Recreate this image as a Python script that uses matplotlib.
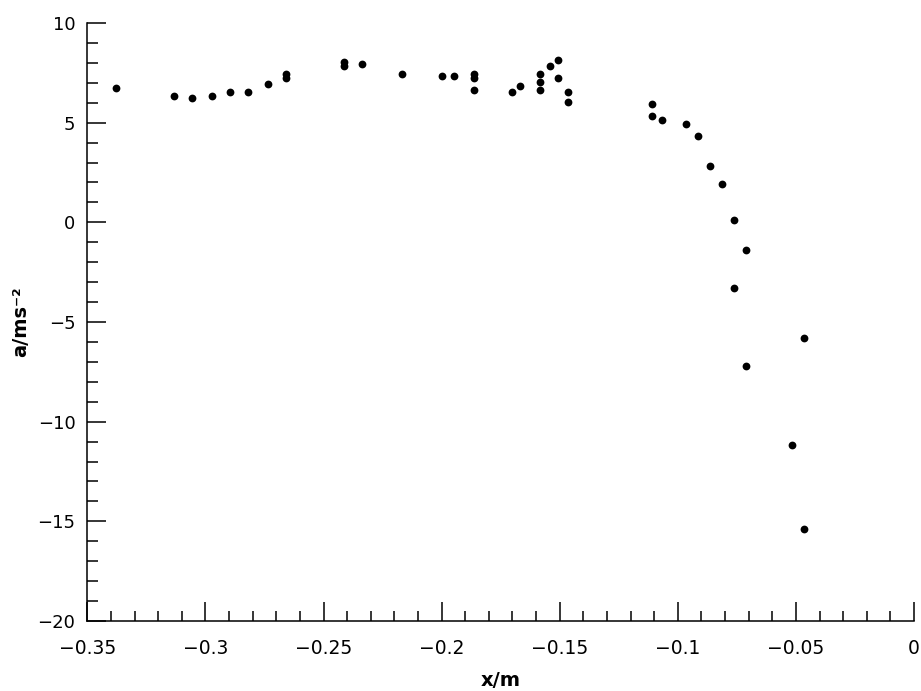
import matplotlib
matplotlib.use("Agg")
import matplotlib.pyplot as plt
from matplotlib.ticker import MultipleLocator, FuncFormatter

# values
X_M = [
    -0.3378, -0.3133, -0.3057, -0.2972, -0.2896, -0.2820, -0.2735, -0.2659, -0.2659,
    -0.2415, -0.2415, -0.2338, -0.2168, -0.1999, -0.1948,
    -0.1863, -0.1863, -0.1863, -0.1703, -0.1669,
    -0.1584, -0.1584, -0.1584, -0.1542, -0.1508, -0.1508, -0.1466, -0.1466,
    -0.1110, -0.1110, -0.1068, -0.0966, -0.0915, -0.0864, -0.0813, -0.0762,
    -0.0711, -0.0762, -0.0466, -0.0711, -0.0517, -0.0466,
]
A_MS2 = [
    6.72, 6.33, 6.22, 6.33, 6.52, 6.52, 6.92, 7.42, 7.22,
    8.02, 7.82, 7.92, 7.42, 7.32, 7.32,
    7.42, 7.22, 6.62, 6.52, 6.82,
    7.42, 7.02, 6.62, 7.82, 8.12, 7.22, 6.52, 6.02,
    5.92, 5.32, 5.12, 4.92, 4.32, 2.82, 1.92, 0.12,
    -1.39, -3.29, -5.79, -7.19, -11.19, -15.39,
]


def fmt(v, pos):
    s = ("%.2f" % v).rstrip("0").rstrip(".")
    if s in ("-0", ""):
        s = "0"
    return s.replace("-", "\u2212")


def main():
    plt.rcParams["font.family"] = ["DejaVu Sans"]
    fig = plt.figure(figsize=(9.21, 6.91), dpi=100)
    ax = fig.add_axes([87.3 / 921, 70 / 691, 826.7 / 921, 598 / 691])

    ax.plot(X_M, A_MS2, "o", color="black", ms=5.6, mew=0, clip_on=False)

    ax.set_xlim(-0.35, 0)
    ax.set_ylim(-20, 10)
    ax.xaxis.set_major_locator(MultipleLocator(0.05))
    ax.xaxis.set_minor_locator(MultipleLocator(0.01))
    ax.yaxis.set_major_locator(MultipleLocator(5))
    ax.yaxis.set_minor_locator(MultipleLocator(1))
    ax.xaxis.set_major_formatter(FuncFormatter(fmt))
    ax.yaxis.set_major_formatter(FuncFormatter(fmt))

    for side in ("top", "right"):
        ax.spines[side].set_visible(False)
    for side in ("left", "bottom"):
        ax.spines[side].set_linewidth(1.1)

    ax.tick_params(which="both", direction="in", width=1.1)
    ax.tick_params(axis="x", labelsize=13.5)
    ax.tick_params(axis="y", labelsize=13)
    ax.tick_params(which="major", length=13.7)
    ax.tick_params(axis="x", which="minor", length=7.5)
    ax.tick_params(axis="y", which="minor", length=8.2)
    ax.tick_params(axis="x", pad=13)
    ax.tick_params(axis="y", pad=8.5)

    ax.set_xlabel("x/m", fontsize=14, fontweight="bold", labelpad=9)
    ax.set_ylabel("a/ms\u207b\u00b2", fontsize=14, fontweight="bold", labelpad=5)

    fig.savefig("out.png", dpi=100)


if __name__ == "__main__":
    main()
